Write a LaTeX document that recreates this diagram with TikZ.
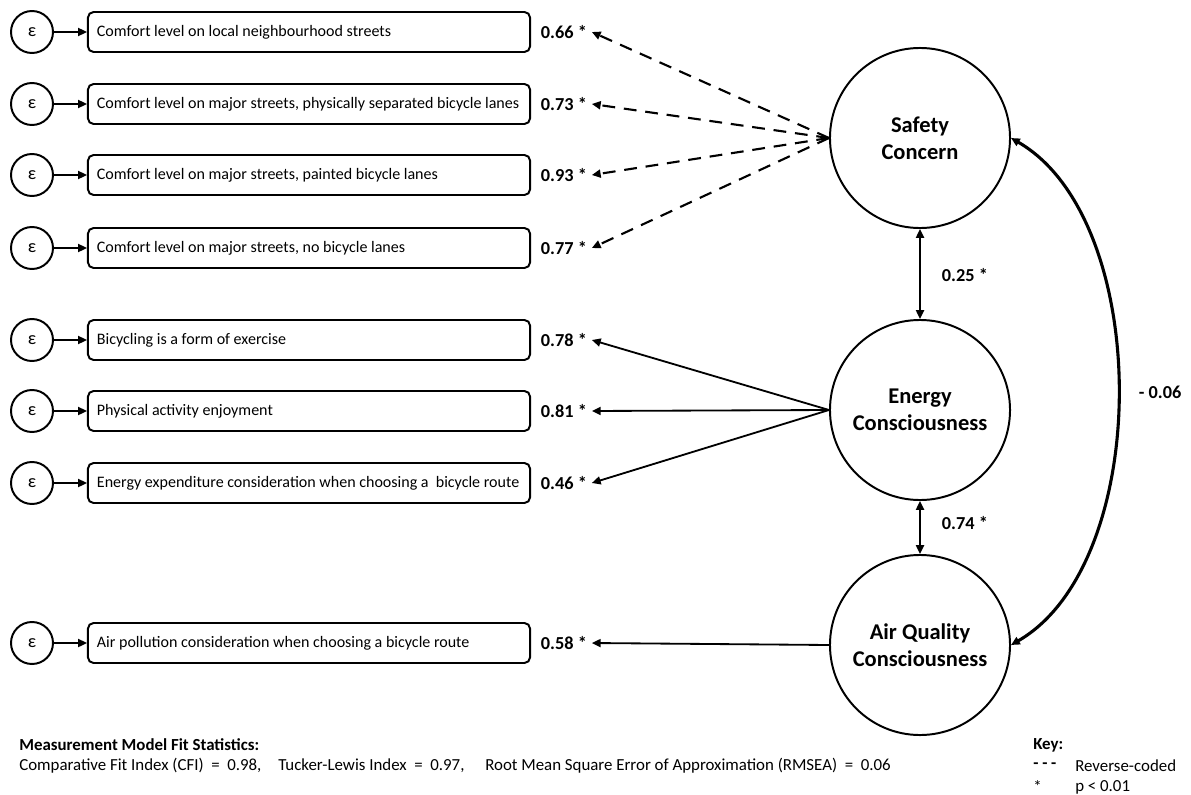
\documentclass[tikz,border=0pt]{standalone}
\usepackage{fontspec}
\setmainfont{Carlito}
\usetikzlibrary{arrows.meta}

\begin{document}
\begin{tikzpicture}[x=0.025cm,y=-0.025cm,
  >={Triangle[length=2.2mm,width=2mm]},
  err/.style={circle,draw,line width=1.4pt,minimum size=1.05cm,inner sep=0pt,font=\fontsize{13}{15}\selectfont},
  item/.style={draw,rounded corners=4pt,line width=1.4pt,minimum height=1cm,inner xsep=2.25mm,text width=10.6cm,align=flush left,font=\fontsize{11.4}{13}\selectfont},
  coef/.style={anchor=west,font=\bfseries\fontsize{13}{15}\selectfont},
  latent/.style={circle,draw,line width=1.4pt,minimum size=4.5cm,align=center,font=\bfseries\fontsize{16}{19}\selectfont},
  link/.style={->,line width=1.3pt},
  rev/.style={link,line width=1.5pt,dash pattern=on 3.2mm off 2.2mm},
  note/.style={anchor=west,inner sep=0pt,font=\fontsize{12}{14}\selectfont}]

\useasboundingbox (0,0) rectangle (1191,795);

% latent factors
\node[latent] (sc) at (920,138) {Safety\\Concern};
\node[latent] (ec) at (920,410) {Energy\\Consciousness};
\node[latent] (aq) at (920,645) {Air Quality\\Consciousness};

% indicators
\node[err] (e1) at (32,32) {ε};  \node[item] (i1) at (309,32) {Comfort level on local neighbourhood streets};
\node[err] (e2) at (32,104) {ε}; \node[item] (i2) at (309,104) {Comfort level on major streets, physically separated bicycle lanes};
\node[err] (e3) at (32,175) {ε}; \node[item] (i3) at (309,175) {Comfort level on major streets, painted bicycle lanes};
\node[err] (e4) at (32,248) {ε}; \node[item] (i4) at (309,248) {Comfort level on major streets, no bicycle lanes};
\node[err] (e5) at (32,340) {ε}; \node[item] (i5) at (309,340) {Bicycling is a form of exercise};
\node[err] (e6) at (32,411) {ε}; \node[item] (i6) at (309,411) {Physical activity enjoyment};
\node[err] (e7) at (32,483) {ε}; \node[item] (i7) at (309,483) {Energy expenditure consideration when choosing a \ bicycle route};
\node[err] (e8) at (32,643) {ε}; \node[item] (i8) at (309,643) {Air pollution consideration when choosing a bicycle route};

\draw[link] (e1) -- (i1); \draw[link] (e2) -- (i2); \draw[link] (e3) -- (i3); \draw[link] (e4) -- (i4);
\draw[link] (e5) -- (i5); \draw[link] (e6) -- (i6); \draw[link] (e7) -- (i7); \draw[link] (e8) -- (i8);

% loadings
\node[coef] (w1) at (536,32) {0.66 *};
\node[coef] (w2) at (536,104) {0.73 *};
\node[coef] (w3) at (536,175) {0.93 *};
\node[coef] (w4) at (536,248) {0.77 *};
\node[coef] (w5) at (536,340) {0.78 *};
\node[coef] (w6) at (536,411) {0.81 *};
\node[coef] (w7) at (536,483) {0.46 *};
\node[coef] (w8) at (536,643) {0.58 *};

\draw[rev] (sc.west) -- (w1.east); \draw[rev] (sc.west) -- (w2.east);
\draw[rev] (sc.west) -- (w3.east); \draw[rev] (sc.west) -- (w4.east);
\draw[link] (ec.west) -- (w5.east); \draw[link] (ec.west) -- (w6.east); \draw[link] (ec.west) -- (w7.east);
\draw[link] (aq.west) -- (w8.east);

% correlations
\draw[<->,line width=1.3pt] (sc) -- (ec); \node[coef] (r1) at (937,275) {0.25 *};
\draw[<->,line width=1.3pt] (ec) -- (aq); \node[coef] (r2) at (937,523) {0.74 *};
\draw[<->,line width=2.2pt] (sc.east) .. controls +(-30:4.1cm) and +(30:4.1cm) .. (aq.east);
\node[coef] (r3) at (1134,392) {- 0.06};

% fit statistics and key
\node[note,font=\bfseries\fontsize{12}{14}\selectfont] (fit) at (19,745) {Measurement Model Fit Statistics:};
\node[note] (cfi) at (19,766) {Comparative Fit Index (CFI) \ = \ 0.98,};
\node[note] (tli) at (278,766) {Tucker-Lewis Index \ = \ 0.97,};
\node[note] (rmsea) at (485,766) {Root Mean Square Error of Approximation (RMSEA) \ = \ 0.06};
\node[note,font=\bfseries\fontsize{12}{14}\selectfont] (key) at (1033,745) {Key:};
\node[note,font=\bfseries\fontsize{12}{14}\selectfont] (k1) at (1033,766) {- - -}; \node[note] (k1t) at (1075,766) {Reverse-coded};
\node[note] (k2) at (1033,787) {*};     \node[note] (k2t) at (1075,787) {p < 0.01};

\end{tikzpicture}
\end{document}
